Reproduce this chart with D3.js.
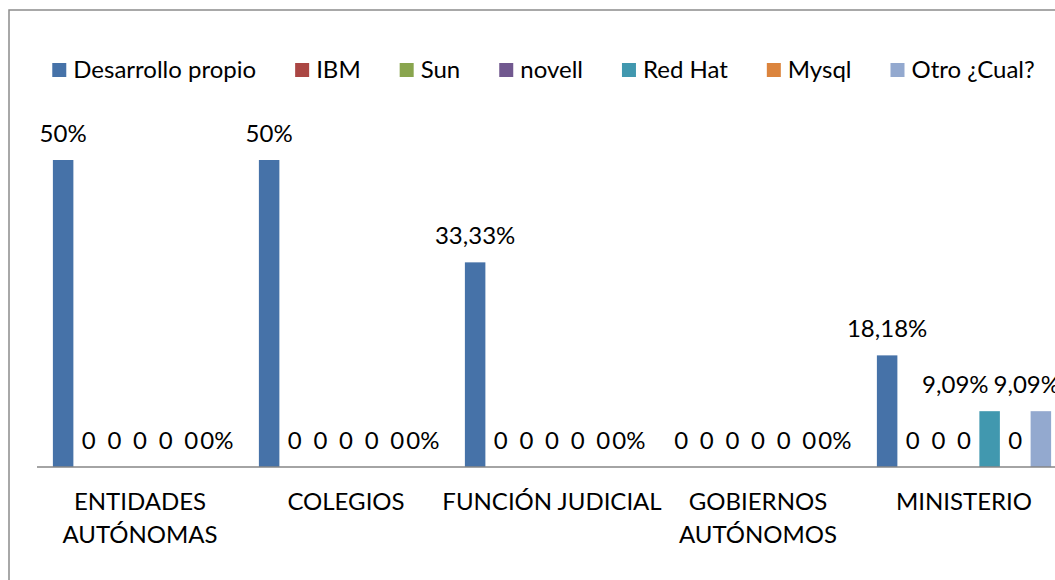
<!DOCTYPE html>
<html>
<head>
<meta charset="utf-8">
<script src="https://cdn.jsdelivr.net/npm/d3@7/dist/d3.min.js"></script>
<style>
html,body{margin:0;padding:0;background:#fff;overflow:hidden;}
svg{display:block;}
text{font-family:Lato,"Open Sans",sans-serif;fill:#000;}
</style>
</head>
<body>
<svg id="chart" width="1055" height="580"></svg>
<script>
const categories = ["ENTIDADES AUTÓNOMAS", "COLEGIOS", "FUNCIÓN JUDICIAL", "GOBIERNOS AUTÓNOMOS", "MINISTERIO"];
const seriesNames = ["Desarrollo propio", "IBM", "Sun", "novell", "Red Hat", "Mysql", "Otro ¿Cual?"];
const seriesColors = ["#4672A8", "#AA4643", "#89A54E", "#71588F", "#4198AF", "#DB843D", "#93A9CF"];
const desarrolloPropio = [0.50, 0.50, 0.3333, 0, 0.1818];
const ibm = [0, 0, 0, 0, 0];
const sun = [0, 0, 0, 0, 0];
const novell = [0, 0, 0, 0, 0];
const redHat = [0, 0, 0, 0, 0.0909];
const mysql = [0, 0, 0, 0, 0];
const otro = [0, 0, 0, 0, 0.0909];
const zeroLabels = ["0", "0", "0", "0", "0", "0", "0%"];

const seriesValues = [desarrolloPropio, ibm, sun, novell, redHat, mysql, otro];

const svg = d3.select("#chart");
const FS = 24;

// chart frame
svg.append("rect").attr("x", 9).attr("y", 10).attr("width", 1200).attr("height", 800)
  .attr("fill", "#fff").attr("stroke", "#8c8c8c").attr("stroke-width", 1.5);

const plotLeft = 37, catW = 206, baseY = 467, chartRight = 1060;
const x0 = d3.scaleBand().domain(categories).range([plotLeft, plotLeft + catW * categories.length]);
const x1 = d3.scaleBand().domain(seriesNames).range([0, catW]).paddingInner(0.2).paddingOuter(0.62);
const y = d3.scaleLinear().domain([0, 0.5]).range([baseY, 160]);

const fmt = v => {
  const s = (v * 100).toFixed(2).replace(/\.?0+$/, "");
  return s.replace(".", ",") + "%";
};

const rows = [];
seriesNames.forEach((s, si) => {
  categories.forEach((c, ci) => {
    rows.push({s, si, c, v: seriesValues[si][ci]});
  });
});

const g = svg.append("g");
g.selectAll("rect.bar").data(rows.filter(d => d.v > 0)).join("rect")
  .attr("class", "bar")
  .attr("x", d => x0(d.c) + x1(d.s))
  .attr("width", x1.bandwidth())
  .attr("y", d => y(d.v))
  .attr("height", d => y(0) - y(d.v))
  .attr("fill", d => seriesColors[d.si]);

// axis
const xAxis = d3.axisBottom(x0).tickSize(0).tickFormat("");
const ax = svg.append("g").attr("transform", `translate(0,${baseY})`).call(xAxis);
ax.select(".domain").attr("stroke", "#868686").attr("stroke-width", 1.5)
  .attr("d", `M${plotLeft},0H1100`);

// category labels with wrapping
const catG = svg.append("g");
categories.forEach(c => {
  const t = catG.append("text").attr("x", x0(c) + catW / 2).attr("y", 510)
    .attr("text-anchor", "middle").attr("font-size", FS);
  const words = c.split(" ");
  let line = [];
  let ts = t.append("tspan").attr("x", x0(c) + catW / 2).attr("dy", 0);
  words.forEach(w => {
    line.push(w);
    ts.text(line.join(" "));
    if (ts.node().getComputedTextLength() > 228 && line.length > 1) {
      line.pop();
      ts.text(line.join(" "));
      line = [w];
      ts = t.append("tspan").attr("x", x0(c) + catW / 2).attr("dy", 33).text(w);
    }
  });
});

// data labels
const lbls = g.selectAll("text.lbl").data(rows).join("text")
  .attr("class", "lbl")
  .attr("x", d => x0(d.c) + x1(d.s) + x1.bandwidth() / 2)
  .attr("y", d => y(d.v) - 18)
  .attr("text-anchor", "middle")
  .attr("font-size", FS)
  .text(d => d.v === 0 ? zeroLabels[d.si] : fmt(d.v));

// keep non-zero labels inside chart area and avoid overlaps (shift left)
const nz = [];
lbls.each(function(d) {
  if (d.v > 0) {
    const w = this.getComputedTextLength();
    const cxp = +this.getAttribute("x");
    nz.push({node: this, y: d.v, l: cxp - w / 2, w});
  }
});
const groupsByY = d3.group(nz, d => d.y);
groupsByY.forEach(arr => {
  arr.sort((a, b) => b.l - a.l);
  let limit = chartRight;
  arr.forEach(a => {
    if (a.l + a.w > limit) a.l = limit - a.w;
    limit = a.l - 5;
    a.node.setAttribute("x", a.l + a.w / 2);
  });
});

// legend
const leg = svg.append("g");
let cx = 0;
seriesNames.forEach((s, i) => {
  const it = leg.append("g");
  it.append("rect").attr("x", 0).attr("y", 63).attr("width", 14).attr("height", 14).attr("fill", seriesColors[i]);
  const t = it.append("text").attr("x", 21).attr("y", 78).attr("font-size", FS).text(s);
  const w = 21 + t.node().getComputedTextLength();
  it.attr("transform", `translate(${cx},0)`);
  cx += w + 39;
});
const legW = cx - 39;
leg.attr("transform", `translate(${543.5 - legW / 2},0)`);
</script>
</body>
</html>
